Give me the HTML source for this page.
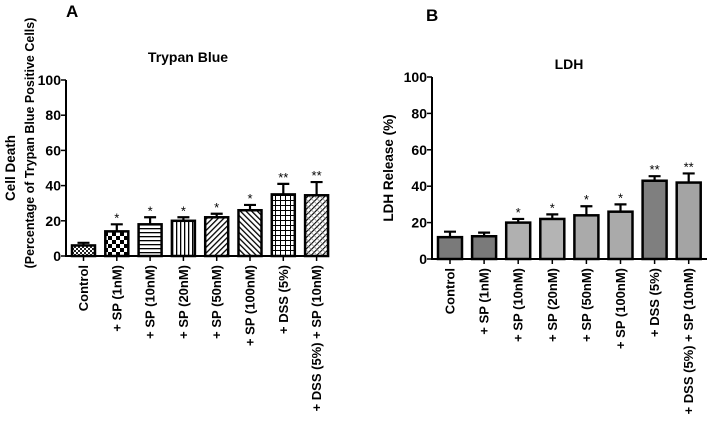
<!DOCTYPE html>
<html><head><meta charset="utf-8"><style>
body{margin:0;background:#fff;width:708px;height:424px;overflow:hidden}
svg{font-family:"Liberation Sans",Arial,sans-serif;font-weight:bold}
</style></head><body>
<svg id="c" width="708" height="424">
<defs>
<pattern id="p0" width="4" height="4" patternUnits="userSpaceOnUse"><rect width="4" height="4" fill="#fff"/><rect width="2" height="2" fill="#222"/><rect x="2" y="2" width="2" height="2" fill="#222"/></pattern>
<pattern id="p1" width="8" height="8" patternUnits="userSpaceOnUse"><rect width="8" height="8" fill="#fff"/><rect width="4" height="4" fill="#000"/><rect x="4" y="4" width="4" height="4" fill="#000"/></pattern>
<pattern id="p2" width="4" height="4" patternUnits="userSpaceOnUse"><rect width="4" height="4" fill="#fff"/><rect width="4" height="1.3" fill="#000"/></pattern>
<pattern id="p3" width="4" height="4" patternUnits="userSpaceOnUse"><rect width="4" height="4" fill="#fff"/><rect width="1.3" height="4" fill="#000"/></pattern>
<pattern id="p4" width="4" height="4" patternUnits="userSpaceOnUse" patternTransform="rotate(45)"><rect width="4" height="4" fill="#fff"/><rect width="1.3" height="4" fill="#000"/></pattern>
<pattern id="p5" width="4" height="4" patternUnits="userSpaceOnUse" patternTransform="rotate(-45)"><rect width="4" height="4" fill="#fff"/><rect width="1.3" height="4" fill="#000"/></pattern>
<pattern id="p6" width="5" height="5" patternUnits="userSpaceOnUse"><rect width="5" height="5" fill="#fff"/><rect width="5" height="1" fill="#000"/><rect width="1" height="5" fill="#000"/></pattern>
<pattern id="p7" width="4" height="4" patternUnits="userSpaceOnUse" patternTransform="rotate(45)"><rect width="4" height="4" fill="#fff"/><rect width="1.1" height="4" fill="#000"/><rect width="4" height="0.6" fill="#777"/></pattern>
</defs>
<text x="66" y="17" font-size="17">A</text>
<text x="426" y="21" font-size="17">B</text>
<text x="188" y="62" font-size="14" text-anchor="middle">Trypan Blue</text>
<text x="569" y="69" font-size="14" text-anchor="middle">LDH</text>
<text transform="translate(15,168) rotate(-90)" font-size="13.5" text-anchor="middle">Cell Death</text>
<text transform="translate(34,143) rotate(-90)" font-size="12.5" text-anchor="middle">(Percentage of Trypan Blue Positive Cells)</text>
<text transform="translate(393,168) rotate(-90)" font-size="13.5" text-anchor="middle">LDH Release (%)</text>
</svg>
<script>
const categories=["Control","+ SP (1nM)","+ SP (10nM)","+ SP (20nM)","+ SP (50nM)","+ SP (100nM)","+ DSS (5%)","+ DSS (5%) + SP (10nM)"];
const trypanValues=[6,14,18,20,22,26,35,34.5];
const trypanErrors=[1.5,4,4,2,2,3,6,7.5];
const ldhValues=[12,12.5,20,22,24,26,43,42];
const ldhErrors=[3,2,2,2.5,5,4,2.5,5];
const sigA=["","*","*","*","*","*","**","**"];
const sigB=["","","*","*","*","*","**","**"];
const yTicks=[0,20,40,60,80,100];
const svg=document.getElementById('c');
const NS="http://www.w3.org/2000/svg";
function mk(t,a){const e=document.createElementNS(NS,t);for(const k in a)e.setAttribute(k,a[k]);svg.appendChild(e);return e;}
function chart(cfg){
 const y=v=>cfg.y0-(cfg.y0-cfg.y100)*v/100;
 const x=i=>cfg.bx+cfg.step*i;
 yTicks.forEach(t=>{
  const l=mk('line',{x1:cfg.ax-5,x2:cfg.ax,y1:y(t),y2:y(t),stroke:'#000','stroke-width':1.5});
  
  
  const tx=mk('text',{x:cfg.ax-5,y:y(t)+5,'font-size':14,'text-anchor':'end'});
  tx.textContent=t;
  
  
 });
 cfg.vals.forEach((v,i)=>{
  const xc=x(i)+cfg.bw/2, top=y(v+cfg.errs[i]);
  const e=mk('path',{d:`M${xc},${y(v)}V${top}M${xc-6},${top}H${xc+6}`,stroke:'#000','stroke-width':2.2,fill:'none'});
  
  
  const r=mk('rect',{x:x(i),y:y(v),width:cfg.bw,height:cfg.y0-y(v),fill:cfg.fills[i],stroke:'#000','stroke-width':2.5});
  
  
  if(cfg.sig[i]){const s=mk('text',{x:xc,y:top-2,'font-size':13,'text-anchor':'middle','font-weight':'normal'});s.textContent=cfg.sig[i];
  
  }
  const tk=mk('line',{x1:xc,x2:xc,y1:cfg.y0,y2:cfg.y0+5,stroke:'#000','stroke-width':1.5});
  
  
  const lb=mk('text',{transform:`translate(${xc+4.5},${cfg.y0+9}) rotate(-90)`,'font-size':13,'text-anchor':'end'});
  lb.textContent=categories[i];
  
  
 });
 const ax=mk('path',{d:`M${cfg.ax},${y(100)}V${cfg.y0}H${cfg.xend}`,stroke:'#000','stroke-width':2,fill:'none'});
 
 
}
chart({ax:66,y0:256,y100:80,bx:72,step:33.3,bw:23,xend:316,vals:trypanValues,errs:trypanErrors,sig:sigA,
 fills:['url(#p0)','url(#p1)','url(#p2)','url(#p3)','url(#p4)','url(#p5)','url(#p6)','url(#p7)']});
chart({ax:432,y0:259,y100:77,bx:438,step:34.1,bw:24,xend:707,vals:ldhValues,errs:ldhErrors,sig:sigB,
 fills:['#7a7a7a','#7a7a7a','#b0b0b0','#b4b4b4','#aaaaaa','#aaaaaa','#7f7f7f','#a4a4a4']});
</script>
</body></html>
